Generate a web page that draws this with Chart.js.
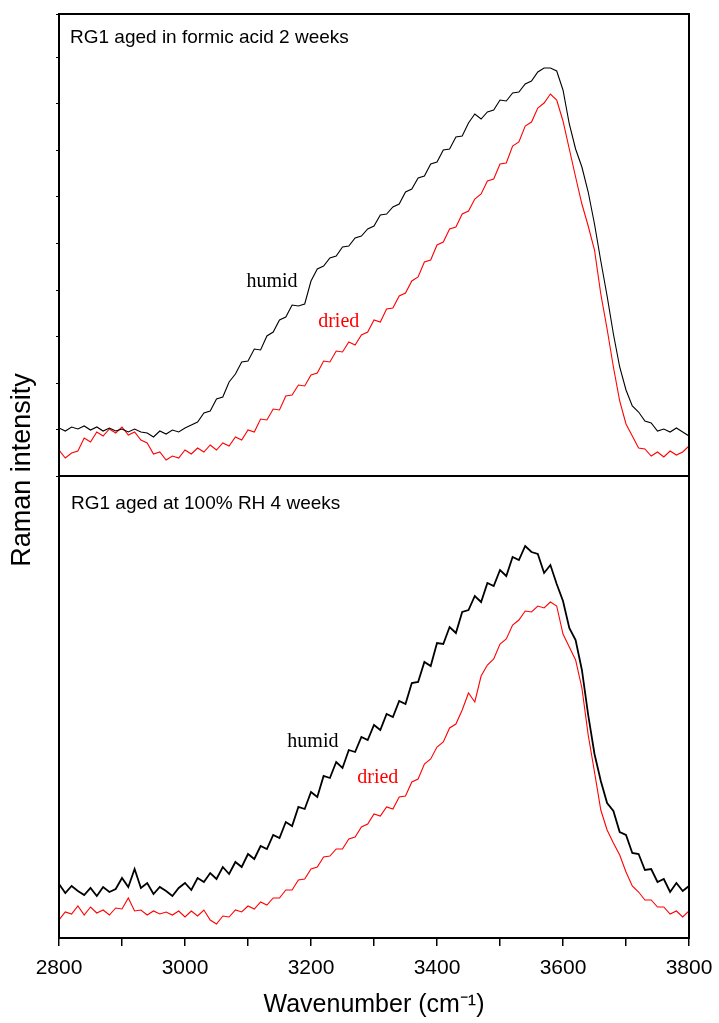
<!DOCTYPE html>
<html>
<head>
<meta charset="utf-8">
<script src="https://cdn.jsdelivr.net/npm/chart.js@4.4.1/dist/chart.umd.min.js"></script>
<style>
  html, body { margin: 0; padding: 0; background: #fff; }
</style>
</head>
<body>
<canvas id="spectra" width="719" height="1023"></canvas>
<script>
// =============================
// RAMAN SPECTRA, TWO PANELS
// =============================
const wavenumbers = Array.from({ length: 101 }, (_, i) => 2800 + i * 10);
const xTickLabels = [2800, 3000, 3200, 3400, 3600, 3800];

// top panel: aged in formic acid 2 weeks (arbitrary intensity)
const topHumid = [
    48, 45, 49, 47, 50, 46, 49, 45, 48, 45,
    47, 44, 47, 44, 43, 39, 45, 42, 46, 44,
    48, 51, 54, 63, 65, 77, 79, 94, 102, 114,
    115, 127, 126, 140, 144, 156, 159, 171, 170, 172,
    195, 207, 210, 218, 220, 229, 230, 238, 240, 247,
    250, 261, 262, 269, 272, 284, 287, 298, 300, 312,
    314, 326, 327, 339, 340, 353, 362, 357, 364, 366,
    376, 375, 383, 384, 392, 395, 404, 408, 408, 405,
    386, 352, 327, 309, 284, 252, 215, 180, 142, 109,
    86, 70, 64, 55, 53, 45, 47, 44, 48, 44,
    40
];
const topDried = [
    26, 18, 23, 25, 38, 34, 44, 40, 47, 43,
    49, 41, 44, 36, 33, 22, 24, 16, 20, 18,
    26, 22, 28, 24, 31, 26, 33, 30, 39, 36,
    46, 44, 57, 56, 67, 66, 80, 81, 91, 90,
    101, 103, 115, 114, 125, 124, 134, 131, 141, 144,
    156, 154, 167, 168, 180, 183, 195, 199, 214, 216,
    231, 234, 247, 249, 262, 265, 277, 282, 295, 297,
    312, 313, 330, 334, 350, 354, 368, 373, 382, 376,
    355, 327, 299, 272, 250, 226, 182, 147, 109, 75,
    52, 40, 28, 27, 20, 24, 19, 25, 21, 24,
    30
];

// bottom panel: aged at 100% RH 4 weeks
const botHumid = [
    54, 45, 52, 47, 43, 50, 42, 51, 46, 49,
    60, 51, 69, 50, 55, 44, 51, 47, 42, 50,
    55, 48, 60, 56, 65, 59, 71, 64, 76, 71,
    84, 79, 92, 89, 103, 100, 116, 112, 131, 129,
    146, 141, 162, 160, 176, 170, 188, 186, 201, 198,
    213, 208, 224, 221, 237, 234, 255, 256, 276, 272,
    295, 294, 311, 305, 326, 328, 342, 336, 355, 352,
    368, 362, 381, 378, 392, 386, 384, 365, 373, 354,
    337, 310, 298, 268, 223, 184, 157, 135, 127, 106,
    103, 85, 84, 68, 69, 56, 59, 46, 55, 47,
    52
];
const botDried = [
    18, 26, 24, 32, 23, 31, 25, 28, 23, 30,
    29, 40, 27, 28, 23, 27, 24, 26, 23, 27,
    21, 27, 22, 28, 18, 14, 22, 21, 28, 26,
    32, 29, 36, 33, 40, 40, 48, 48, 58, 59,
    69, 71, 81, 82, 89, 89, 99, 101, 111, 114,
    124, 122, 131, 129, 141, 142, 156, 159, 174, 179,
    191, 196, 210, 214, 228, 245, 236, 262, 273, 279,
    294, 299, 313, 318, 327, 326, 332, 330, 336, 332,
    304, 291, 278, 250, 203, 166, 128, 108, 95, 83,
    66, 52, 46, 38, 38, 31, 31, 24, 27, 21,
    27
];

const panelTitles = ['RG1 aged in formic acid 2 weeks', 'RG1 aged at 100% RH 4 weeks'];
// curve labels: [text, wavenumber, intensity, axis, colour]
const curveLabels = [
    ['humid', 3138, 194, 'yTop', '#000000'],
    ['dried', 3244, 154, 'yTop', '#ff0000'],
    ['humid', 3203, 196, 'yBot', '#000000'],
    ['dried', 3306, 160, 'yBot', '#ff0000']
];

const sansFont = 'Arial, "Liberation Sans", sans-serif';
const serifFont = '"Times New Roman", "Liberation Serif", serif';

function toPoints(values) {
    return values.map((v, i) => ({ x: wavenumbers[i], y: v }));
}

function lineSet(label, values, axis, color, width) {
    return {
        label: label,
        data: toPoints(values),
        yAxisID: axis,
        borderColor: color,
        borderWidth: width,
        pointRadius: 0,
        tension: 0,
        fill: false
    };
}

const framePlugin = {
    id: 'panelFrame',
    afterDraw(chart) {
        const { ctx, chartArea: a, scales } = chart;
        ctx.save();
        ctx.strokeStyle = '#000';
        ctx.lineWidth = 2;
        ctx.strokeRect(a.left, a.top, a.right - a.left, a.bottom - a.top);
        const mid = scales.yTop.bottom;
        ctx.beginPath();
        ctx.moveTo(a.left, mid);
        ctx.lineTo(a.right, mid);
        ctx.stroke();

        // panel captions
        ctx.fillStyle = '#000';
        ctx.font = '19px ' + sansFont;
        ctx.textBaseline = 'middle';
        ctx.textAlign = 'left';
        ctx.fillText(panelTitles[0], a.left + 11, a.top + 24);
        ctx.fillText(panelTitles[1], a.left + 12, mid + 28);

        // curve labels
        ctx.font = '20px ' + serifFont;
        ctx.textAlign = 'center';
        curveLabels.forEach(([text, wn, val, axis, color]) => {
            ctx.fillStyle = color;
            ctx.fillText(text, scales.x.getPixelForValue(wn), scales[axis].getPixelForValue(val));
        });

        // shared y title
        ctx.fillStyle = '#000';
        ctx.font = '27px ' + sansFont;
        ctx.translate(23, (a.top + a.bottom) / 2 - 6);
        ctx.rotate(-Math.PI / 2);
        ctx.fillText('Raman intensity', 0, 0);
        ctx.restore();
    }
};

const ctx = document.getElementById('spectra').getContext('2d');
new Chart(ctx, {
    type: 'line',
    data: {
        datasets: [
            lineSet('humid (formic acid)', topHumid, 'yTop', '#000000', 1.1),
            lineSet('dried (formic acid)', topDried, 'yTop', '#ff0000', 1.1),
            lineSet('humid (100% RH)', botHumid, 'yBot', '#000000', 1.8),
            lineSet('dried (100% RH)', botDried, 'yBot', '#ff0000', 1.1)
        ]
    },
    options: {
        responsive: false,
        animation: false,
        layout: { padding: { top: 14, right: 30, left: 0, bottom: 0 } },
        plugins: {
            legend: { display: false },
            tooltip: { enabled: false }
        },
        scales: {
            x: {
                type: 'linear',
                min: 2800,
                max: 3800,
                border: { display: false },
                grid: { drawOnChartArea: false, drawTicks: true, tickLength: 8, color: '#000', lineWidth: 1.5 },
                ticks: {
                    stepSize: 100,
                    autoSkip: false,
                    maxRotation: 0,
                    padding: 10,
                    color: '#000',
                    font: { family: sansFont, size: 21 },
                    callback: v => xTickLabels.includes(v) ? String(v) : ''
                },
                title: {
                    display: true,
                    text: 'Wavenumber (cm⁻¹)',
                    color: '#000',
                    font: { family: sansFont, size: 25 },
                    padding: { top: 0, bottom: 3 }
                },
                afterFit: scale => {
                    scale.height = 85;
                    scale.paddingRight = 20;
                }
            },
            yBot: {
                type: 'linear',
                position: 'left',
                stack: 'panels',
                stackWeight: 1,
                min: 0,
                max: 462,
                border: { display: false },
                grid: { display: false },
                ticks: { display: false },
                afterFit: scale => { scale.width = 59; }
            },
            yTop: {
                type: 'linear',
                position: 'left',
                stack: 'panels',
                stackWeight: 1,
                min: 0,
                max: 462,
                border: { display: false },
                grid: { drawOnChartArea: false, drawTicks: true, tickLength: 3, color: '#000' },
                ticks: { display: false, stepSize: 46.5 },
                afterFit: scale => { scale.width = 59; }
            }
        }
    },
    plugins: [framePlugin]
});
</script>
</body>
</html>
